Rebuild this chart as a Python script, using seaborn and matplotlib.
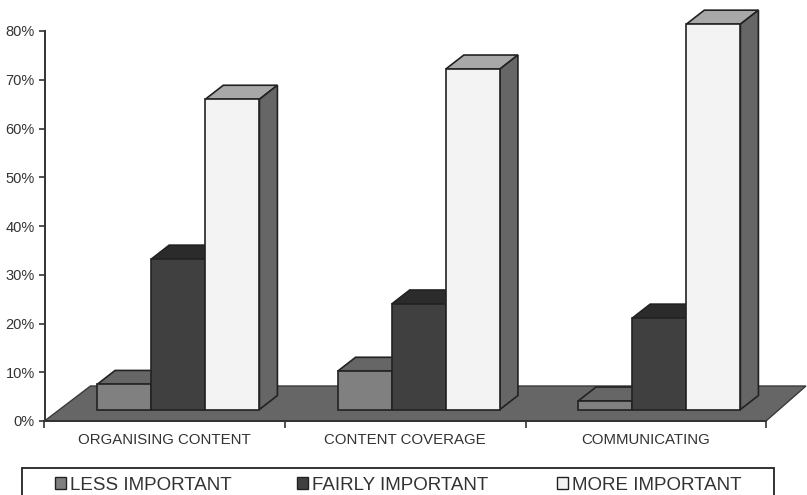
import matplotlib
matplotlib.use("Agg")
import matplotlib.pyplot as plt
from matplotlib.patches import Polygon, Rectangle
import pandas as pd
import seaborn as sns

categories = ["ORGANISING CONTENT", "CONTENT COVERAGE", "COMMUNICATING"]
levels = ["LESS IMPORTANT", "FAIRLY IMPORTANT", "MORE IMPORTANT"]
less_important = [7.5, 10.2, 4.1]
fairly_important = [33.2, 24.0, 21.1]
more_important = [66.0, 72.2, 81.4]

front_colors = ["#808080", "#404040", "#f3f3f3"]
top_colors = ["#666666", "#2b2b2b", "#a8a8a8"]
side_colors = ["#666666", "#333333", "#666666"]
edge = "#222222"
ink = "#333333"

W, H = 807, 495
AX_L, AX_R, AX_T, AX_B = 44.5, 766, 31, 421

sns.set_theme(style="white")
plt.rcParams["font.family"] = ["Liberation Sans", "DejaVu Sans"]

df = pd.DataFrame({
    "category": categories * 3,
    "level": [lv for lv in levels for _ in categories],
    "value": less_important + fairly_important + more_important,
})

fig = plt.figure(figsize=(W / 100, H / 100), dpi=100)
ax = fig.add_axes([AX_L / W, 1 - AX_B / H, (AX_R - AX_L) / W, (AX_B - AX_T) / H])

sns.barplot(data=df, x="category", y="value", hue="level", order=categories,
            hue_order=levels, palette=front_colors, width=0.675, gap=0,
            edgecolor=edge, linewidth=1.2, saturation=1, ax=ax)
handles, labels = ax.get_legend_handles_labels()
ax.get_legend().remove()

ax.set_xlim(-0.5, 2.5)
ax.set_ylim(0, 80)

# scale factors for expressing the oblique projection in data units
px_x = 3.0 / (AX_R - AX_L)
px_y = 80.0 / (AX_B - AX_T)

# floor of the 3D box
floor_depth = 35 * px_y
floor = Polygon([(-0.5, 0), (2.5, 0), (2.5 + 40 * px_x, floor_depth),
                 (-0.5 + 46 * px_x, floor_depth)],
                closed=True, facecolor="#666666", edgecolor="#3a3a3a",
                linewidth=1.0, clip_on=False, zorder=1)
ax.add_patch(floor)

# columns stand on the floor, set back from its front edge, with oblique top and side faces
base = 11.5 * px_y
shift = 13.5 * px_x
depth_x = 18 * px_x
depth_y = 14 * px_y
for i, container in enumerate(ax.containers):
    for bar in container:
        top = bar.get_height()
        x0 = bar.get_x() + shift
        x1 = x0 + bar.get_width()
        bar.set_x(x0)
        bar.set_y(base)
        bar.set_height(top - base)
        bar.set_clip_on(False)
        bar.set_zorder(4 + 2 * i)
        ax.add_patch(Polygon([(x0, top), (x1, top), (x1 + depth_x, top + depth_y),
                              (x0 + depth_x, top + depth_y)], closed=True,
                             facecolor=top_colors[i], edgecolor=edge, linewidth=1.2,
                             clip_on=False, zorder=3 + 2 * i))
        ax.add_patch(Polygon([(x1, base), (x1 + depth_x, base + depth_y),
                              (x1 + depth_x, top + depth_y), (x1, top)], closed=True,
                             facecolor=side_colors[i], edgecolor=edge, linewidth=1.2,
                             clip_on=False, zorder=3 + 2 * i))

# axes furniture
for name in ("top", "right"):
    ax.spines[name].set_visible(False)
for name in ("left", "bottom"):
    ax.spines[name].set_color(ink)
    ax.spines[name].set_linewidth(1.4)
    ax.spines[name].set_zorder(2)
ax.set_xlabel("")
ax.set_ylabel("")
ax.set_yticks(range(0, 81, 10))
ax.set_yticklabels([f"{v}%" for v in range(0, 81, 10)], fontsize=10.5, color=ink)
ax.set_xticks([-0.5, 0.5, 1.5, 2.5])
ax.set_xticklabels([])
ax.set_xticks([0, 1, 2], minor=True)
ax.set_xticklabels(categories, minor=True, fontsize=10.8, color=ink)
ax.tick_params(axis="y", which="major", left=True, length=4, width=1.2, color=ink, pad=3)
ax.tick_params(axis="x", which="major", bottom=True, length=5, width=1.2, color=ink)
ax.tick_params(axis="x", which="minor", bottom=False, length=0, pad=9)

# legend frame runs off the bottom edge of the figure; entries are spaced individually
fig.add_artist(Rectangle((22 / W, -10 / H), (774 - 22) / W, (H + 10 - 468) / H,
                         transform=fig.transFigure, facecolor="white",
                         edgecolor="#222222", linewidth=1.3, zorder=5))
entry_x = [54.5, 296.5, 556.5]
for h, lab, fc, x in zip(handles, labels, front_colors, entry_x):
    leg = fig.legend([h], [lab], loc="center left",
                     bbox_to_anchor=(x / W, 1 - 485.5 / H), frameon=False,
                     fontsize=13.5, handlelength=0.6, handleheight=0.6,
                     handletextpad=0.25, borderpad=0, borderaxespad=0,
                     labelcolor=ink)
    leg.set_zorder(6)
    leg.legend_handles[0].set_facecolor(fc)
    leg.legend_handles[0].set_edgecolor(edge)
    leg.legend_handles[0].set_linewidth(1.0)

fig.savefig("out.png", dpi=100, facecolor="white")
